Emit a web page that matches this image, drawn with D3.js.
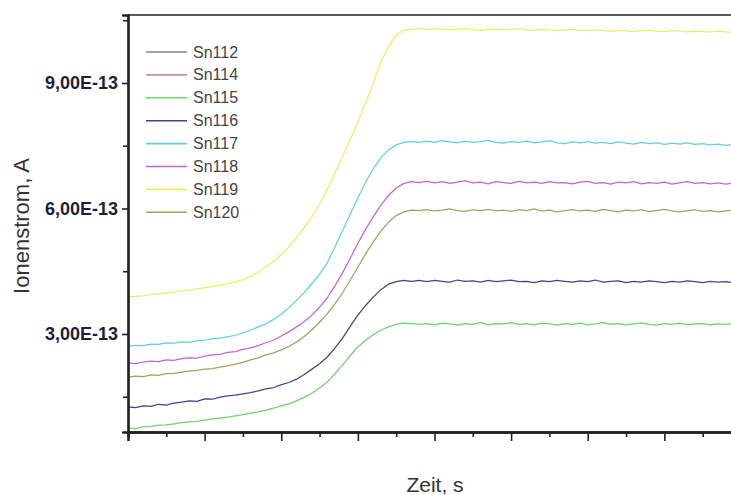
<!DOCTYPE html>
<html>
<head>
<meta charset="utf-8">
<script src="https://cdn.jsdelivr.net/npm/d3@7/dist/d3.min.js"></script>
<style>
  html, body { margin: 0; padding: 0; background: #fff; }
  svg { display: block; }
</style>
</head>
<body>
<svg id="chart" width="731" height="495"></svg>
<script>
// Sampling times (s)
const zeit = [0, 5, 10, 15, 20, 25, 30, 35, 40, 45, 50, 55, 60, 65, 70, 75, 80, 85, 90, 95,
  100, 105, 110, 115, 120, 125, 130, 135, 140, 145, 150, 155, 160, 165, 170, 175, 180, 185, 190, 195,
  200, 205, 210, 215, 220, 225, 230, 235, 240, 245, 250, 255, 260, 265, 270, 275, 280, 285, 290, 295,
  300, 305, 310, 315, 320, 325, 330, 335, 340, 345, 350, 355, 360, 365, 370, 375, 380, 385, 390, 395, 400];

// Ion currents in units of 1E-13 A
const sn112 = [0.18, 0.18, 0.18, 0.19, 0.19, 0.19, 0.19, 0.20, 0.20, 0.20, 0.20, 0.21, 0.21, 0.21, 0.21, 0.22, 0.22, 0.23, 0.23, 0.24,
  0.24, 0.25, 0.26, 0.27, 0.29, 0.31, 0.33, 0.36, 0.38, 0.41, 0.44, 0.47, 0.49, 0.51, 0.52, 0.53, 0.54, 0.54, 0.54,
  0.55, 0.54, 0.53, 0.54, 0.55, 0.54, 0.53, 0.54, 0.55, 0.54, 0.53, 0.54, 0.55, 0.54, 0.53, 0.54, 0.54, 0.55, 0.53, 0.54,
  0.55, 0.54, 0.53, 0.54, 0.55, 0.54, 0.53, 0.54, 0.54, 0.55, 0.53, 0.54, 0.55, 0.54, 0.53, 0.54, 0.55, 0.54, 0.53, 0.54, 0.54, 0.53];
const sn114 = [0.12, 0.12, 0.12, 0.13, 0.13, 0.13, 0.13, 0.13, 0.14, 0.14, 0.14, 0.14, 0.15, 0.15, 0.15, 0.16, 0.16, 0.16, 0.17, 0.17,
  0.18, 0.19, 0.20, 0.21, 0.22, 0.24, 0.26, 0.28, 0.29, 0.31, 0.32, 0.33, 0.34, 0.35, 0.36, 0.36, 0.36, 0.36, 0.36,
  0.36, 0.37, 0.35, 0.36, 0.37, 0.36, 0.35, 0.36, 0.37, 0.36, 0.35, 0.36, 0.36, 0.37, 0.35, 0.36, 0.37, 0.36, 0.35, 0.36,
  0.36, 0.37, 0.35, 0.36, 0.37, 0.36, 0.35, 0.36, 0.36, 0.37, 0.35, 0.36, 0.37, 0.36, 0.35, 0.36, 0.36, 0.37, 0.35, 0.36, 0.36, 0.35];
const sn115 = [0.75, 0.74, 0.78, 0.79, 0.82, 0.83, 0.85, 0.88, 0.90, 0.91, 0.94, 0.97, 0.99, 1.01, 1.04, 1.07, 1.11, 1.14, 1.18, 1.23,
  1.28, 1.33, 1.40, 1.49, 1.59, 1.71, 1.85, 2.05, 2.26, 2.48, 2.69, 2.85, 2.98, 3.09, 3.17, 3.23, 3.26, 3.25, 3.23,
  3.25, 3.22, 3.26, 3.24, 3.21, 3.25, 3.23, 3.27, 3.22, 3.25, 3.24, 3.27, 3.23, 3.25, 3.22, 3.26, 3.24, 3.21, 3.25, 3.23,
  3.26, 3.22, 3.24, 3.27, 3.23, 3.25, 3.22, 3.24, 3.26, 3.23, 3.21, 3.25, 3.23, 3.26, 3.22, 3.24, 3.25, 3.22, 3.24, 3.23, 3.25, 3.23];
const sn116 = [1.26, 1.24, 1.28, 1.27, 1.32, 1.30, 1.35, 1.37, 1.40, 1.39, 1.45, 1.44, 1.49, 1.52, 1.54, 1.57, 1.60, 1.64, 1.69, 1.72,
  1.79, 1.84, 1.92, 2.03, 2.16, 2.29, 2.45, 2.66, 2.90, 3.18, 3.45, 3.68, 3.88, 4.06, 4.19, 4.25, 4.28, 4.26, 4.28,
  4.25, 4.28, 4.26, 4.24, 4.29, 4.26, 4.27, 4.24, 4.28, 4.25, 4.27, 4.29, 4.25, 4.26, 4.23, 4.27, 4.25, 4.28, 4.26, 4.24,
  4.27, 4.25, 4.29, 4.24, 4.26, 4.27, 4.23, 4.26, 4.24, 4.27, 4.25, 4.23, 4.26, 4.24, 4.27, 4.25, 4.23, 4.26, 4.24, 4.25, 4.23, 4.25];
const sn117 = [2.71, 2.73, 2.72, 2.76, 2.75, 2.79, 2.78, 2.81, 2.80, 2.84, 2.85, 2.89, 2.90, 2.93, 2.97, 3.03, 3.09, 3.17, 3.24, 3.35,
  3.47, 3.63, 3.80, 3.99, 4.20, 4.43, 4.70, 5.08, 5.47, 5.87, 6.25, 6.62, 6.95, 7.21, 7.40, 7.52, 7.58, 7.60, 7.58,
  7.61, 7.58, 7.62, 7.59, 7.57, 7.61, 7.58, 7.60, 7.63, 7.58, 7.56, 7.60, 7.58, 7.61, 7.57, 7.59, 7.62, 7.57, 7.55, 7.59,
  7.57, 7.60, 7.56, 7.58, 7.55, 7.59, 7.56, 7.54, 7.58, 7.55, 7.57, 7.53, 7.56, 7.54, 7.57, 7.53, 7.55, 7.52, 7.54, 7.51, 7.53, 7.52];
const sn118 = [2.31, 2.29, 2.33, 2.35, 2.34, 2.38, 2.37, 2.41, 2.43, 2.42, 2.47, 2.50, 2.51, 2.56, 2.58, 2.63, 2.67, 2.72, 2.79, 2.85,
  2.95, 3.05, 3.17, 3.30, 3.45, 3.64, 3.86, 4.15, 4.46, 4.81, 5.17, 5.50, 5.80, 6.08, 6.31, 6.49, 6.60, 6.64, 6.62,
  6.65, 6.61, 6.64, 6.60, 6.63, 6.66, 6.61, 6.63, 6.59, 6.64, 6.62, 6.60, 6.65, 6.61, 6.63, 6.60, 6.64, 6.61, 6.62, 6.59,
  6.63, 6.65, 6.60, 6.62, 6.58, 6.63, 6.61, 6.64, 6.59, 6.62, 6.60, 6.63, 6.58, 6.61, 6.64, 6.60, 6.62, 6.59, 6.61, 6.58, 6.61, 6.60];
const sn119 = [3.88, 3.90, 3.91, 3.94, 3.96, 3.98, 4.00, 4.03, 4.05, 4.08, 4.10, 4.14, 4.17, 4.20, 4.24, 4.30, 4.38, 4.48, 4.60, 4.74,
  4.90, 5.08, 5.30, 5.54, 5.80, 6.10, 6.45, 6.84, 7.24, 7.65, 8.07, 8.52, 8.98, 9.50, 9.88, 10.14, 10.26, 10.29, 10.30,
  10.28, 10.30, 10.29, 10.27, 10.29, 10.30, 10.28, 10.26, 10.28, 10.29, 10.27, 10.28, 10.30, 10.27, 10.26, 10.28, 10.27, 10.25, 10.27, 10.28,
  10.26, 10.25, 10.27, 10.25, 10.24, 10.26, 10.25, 10.23, 10.25, 10.26, 10.24, 10.23, 10.25, 10.24, 10.22, 10.24, 10.23, 10.22, 10.24, 10.22, 10.21, 10.22];
const sn120 = [1.97, 1.99, 1.98, 2.02, 2.01, 2.05, 2.06, 2.09, 2.11, 2.13, 2.16, 2.17, 2.21, 2.24, 2.28, 2.32, 2.38, 2.43, 2.50, 2.55,
  2.62, 2.70, 2.81, 2.94, 3.10, 3.28, 3.48, 3.72, 3.98, 4.29, 4.60, 4.91, 5.20, 5.46, 5.67, 5.83, 5.92, 5.96, 5.95,
  5.97, 5.94, 5.96, 5.99, 5.95, 5.93, 5.97, 5.95, 5.98, 5.94, 5.96, 5.93, 5.97, 5.95, 5.99, 5.94, 5.96, 5.92, 5.95, 5.97,
  5.94, 5.96, 5.93, 5.98, 5.95, 5.92, 5.96, 5.94, 5.97, 5.93, 5.95, 5.98, 5.94, 5.92, 5.95, 5.97, 5.93, 5.95, 5.92, 5.94, 5.96, 5.93];

const isotopes = ["Sn112", "Sn114", "Sn115", "Sn116", "Sn117", "Sn118", "Sn119", "Sn120"];
const currents = [sn112, sn114, sn115, sn116, sn117, sn118, sn119, sn120];

// Y axis ticks (units of 1E-13 A)
const yMajorTicks = [3, 6, 9];
const yMinorTicks = [1.5, 4.5, 7.5, 10.5];
const yTickLabels = ["3,00E-13", "6,00E-13", "9,00E-13"];
// X axis ticks (s)
const xMajorTicks = [0, 50, 100, 150, 200, 250, 300, 350, 400];
const xMinorTicks = [25, 75, 125, 175, 225, 275, 325, 375];

const lineColors = {
  Sn112: "#858585", Sn114: "#c99494", Sn115: "#6fd26f", Sn116: "#43438f",
  Sn117: "#66cfd4", Sn118: "#c466c8", Sn119: "#ecec6a", Sn120: "#a2a25e"
};

const svg = d3.select("#chart");

const x = d3.scaleLinear().domain([0, 400]).range([128, 741]);
const y = d3.scaleLinear().domain([0.657, 10.625]).range([432, 15]);
const [yLow, yHigh] = y.domain();

svg.append("defs").append("clipPath").attr("id", "plotClip")
  .append("rect")
  .attr("x", x(0)).attr("y", y(yHigh))
  .attr("width", x(400) - x(0)).attr("height", y(yLow) - y(yHigh));

// Curves
const line = d3.line().x((d, i) => x(zeit[i])).y(d => y(d));
const plot = svg.append("g").attr("clip-path", "url(#plotClip)");
isotopes.forEach((name, i) => {
  plot.append("path")
    .datum(currents[i])
    .attr("fill", "none")
    .attr("stroke", lineColors[name])
    .attr("stroke-width", 1.25)
    .attr("stroke-linejoin", "round")
    .attr("d", line);
});

// Frame line on top
svg.append("line")
  .attr("x1", x(0)).attr("x2", x(400))
  .attr("y1", y(yHigh)).attr("y2", y(yHigh))
  .attr("stroke", "#222").attr("stroke-width", 1.5);

// Y axis
const yAxisMajor = d3.axisLeft(y).tickValues(yMajorTicks).tickSize(6)
  .tickFormat((d, i) => yTickLabels[i]);
const yAxisMinor = d3.axisLeft(y).tickValues(yMinorTicks).tickSize(5).tickFormat("");

const gyMinor = svg.append("g").attr("transform", `translate(${x(0)},0)`).call(yAxisMinor);
const gy = svg.append("g").attr("transform", `translate(${x(0)},0)`).call(yAxisMajor);
[gy, gyMinor].forEach(g => {
  g.select(".domain").attr("stroke", "#222").attr("stroke-width", 2.2);
  g.selectAll(".tick line").attr("stroke", "#222").attr("stroke-width", 1.6);
});
gy.selectAll(".tick text")
  .attr("x", -10)
  .attr("font-family", "Liberation Sans, Arial, sans-serif")
  .attr("font-size", 18)
  .attr("font-weight", "bold")
  .attr("fill", "#1e1e3c");

// X axis
const xAxisMajor = d3.axisBottom(x).tickValues(xMajorTicks).tickSize(9).tickFormat("");
const xAxisMinor = d3.axisBottom(x).tickValues(xMinorTicks).tickSize(5).tickFormat("");
const gxMinor = svg.append("g").attr("transform", `translate(0,${y(yLow)})`).call(xAxisMinor);
const gx = svg.append("g").attr("transform", `translate(0,${y(yLow)})`).call(xAxisMajor);
[gx, gxMinor].forEach(g => {
  g.select(".domain").attr("stroke", "#222").attr("stroke-width", 2.4);
  g.selectAll(".tick line").attr("stroke", "#222").attr("stroke-width", 1.6);
});

// Axis titles
svg.append("text")
  .attr("x", 435).attr("y", 492)
  .attr("text-anchor", "middle")
  .attr("font-family", "Liberation Sans, Arial, sans-serif")
  .attr("font-size", 21)
  .attr("fill", "#333")
  .text("Zeit, s");

svg.append("text")
  .attr("transform", "translate(29,226) rotate(-90)")
  .attr("text-anchor", "middle")
  .attr("font-family", "Liberation Sans, Arial, sans-serif")
  .attr("font-size", 22)
  .attr("fill", "#333")
  .text("Ionenstrom, A");

// Legend
const legend = svg.append("g");
const legendTop = 52, legendStep = 22.9;
isotopes.forEach((name, i) => {
  const cy = legendTop + i * legendStep;
  legend.append("line")
    .attr("x1", 146).attr("x2", 187)
    .attr("y1", cy).attr("y2", cy)
    .attr("stroke", lineColors[name]).attr("stroke-width", 1.6);
  legend.append("text")
    .attr("x", 193).attr("y", cy + 5.5)
    .attr("font-family", "Liberation Sans, Arial, sans-serif")
    .attr("font-size", 16)
    .attr("fill", "#444")
    .text(name);
});
</script>
</body>
</html>
